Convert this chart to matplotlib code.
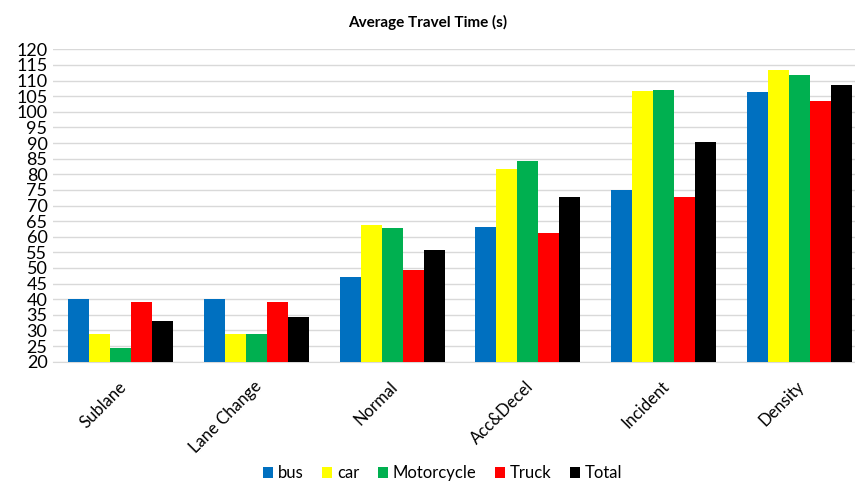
import numpy as np
import matplotlib.pyplot as plt

plt.rcParams['font.family'] = ['Lato', 'DejaVu Sans']

categories = ['Sublane', 'Lane Change', 'Normal', 'Acc&Decel', 'Incident', 'Density']
series_names = ['bus', 'car', 'Motorcycle', 'Truck', 'Total']
bus = [40.1, 40.1, 47.0, 63.2, 75.0, 106.2]
car = [29.0, 28.8, 63.7, 81.6, 106.7, 113.3]
motorcycle = [24.3, 28.8, 62.8, 84.3, 107.0, 111.7]
truck = [39.0, 39.0, 49.5, 61.1, 72.6, 103.4]
total = [33.0, 34.3, 55.8, 72.6, 90.3, 108.7]
colors = ['#0070C0', '#FFFF00', '#00B050', '#FF0000', '#000000']

fig = plt.figure(figsize=(8.55, 4.82), dpi=100)
# the plot area runs a little past the right edge of the picture
ax = fig.add_axes([0.062, 0.2496, 0.952, 0.648])

x = np.arange(len(categories))
n = len(series_names)
width = 0.774 / n
for i, (name, vals) in enumerate(zip(series_names, [bus, car, motorcycle, truck, total])):
    offs = (i - (n - 1) / 2) * width
    ax.bar(x + offs, np.array(vals) - 20, width, bottom=20, color=colors[i],
           label=name, zorder=3)

ax.set_xlim(-0.5, len(categories) - 0.5)
ax.set_ylim(20, 120)
ax.set_yticks(np.arange(20, 121, 5))
ax.yaxis.grid(True, color='#D9D9D9', linewidth=1, zorder=0)
for s in ['top', 'right', 'left']:
    ax.spines[s].set_visible(False)
ax.spines['bottom'].set_color('#D9D9D9')
ax.tick_params(axis='both', length=0, colors='black')
ax.tick_params(axis='y', pad=4, labelsize=13)
ax.set_xticks(x - 0.02)
ax.set_xticklabels(categories, rotation=45, ha='right', va='top',
                   rotation_mode='anchor', fontsize=12)
ax.tick_params(axis='x', pad=12)

fig.text(0.5, 0.953, 'Average Travel Time (s)', ha='center', va='center',
         fontsize=11, fontweight='bold')

fig.legend(loc='center', bbox_to_anchor=(0.5175, 0.018), ncol=5, frameon=False,
           fontsize=12, handlelength=0.6, handleheight=0.6, handletextpad=0.3,
           columnspacing=1.1)

fig.savefig('out.png', dpi=100)
